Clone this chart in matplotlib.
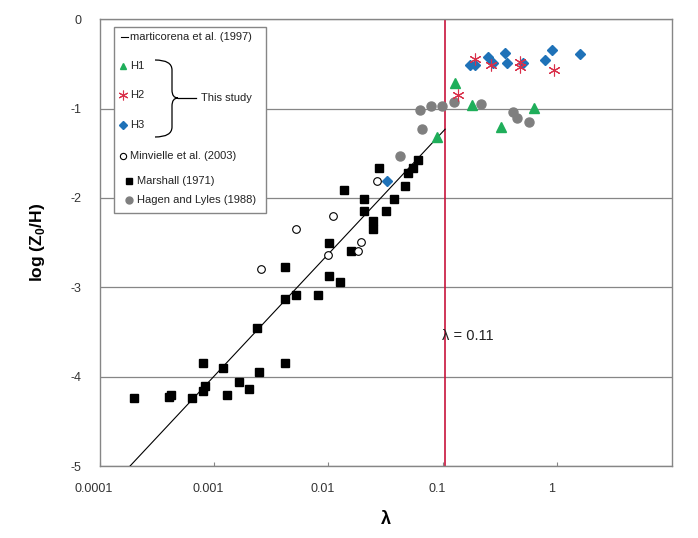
import matplotlib
matplotlib.use("Agg")
import matplotlib.pyplot as plt
from matplotlib.path import Path
from matplotlib.patches import PathPatch, Rectangle
from matplotlib.lines import Line2D
from matplotlib.transforms import ScaledTranslation

plt.rcParams['font.family'] = ['Liberation Sans', 'DejaVu Sans']
plt.rcParams['mathtext.fontset'] = 'custom'
plt.rcParams['mathtext.rm'] = 'Liberation Sans'
plt.rcParams['mathtext.bf'] = 'Liberation Sans:bold'
plt.rcParams['axes.unicode_minus'] = False

# Marshall (1971)
marshall_lam = [2.01e-4, 4.05e-4, 4.19e-4, 6.47e-4, 7.98e-4, 8.1e-4, 8.36e-4, 1.21e-3,
                1.29e-3, 1.67e-3, 2.03e-3, 2.40e-3, 2.49e-3, 4.18e-3, 4.15e-3, 5.19e-3,
                8.07e-3, 0.01265, 4.18e-3, 0.01007, 0.01007, 0.0137, 0.0157, 0.0207,
                0.0207, 0.0244, 0.0244, 0.0279, 0.0318, 0.0375, 0.0469, 0.0501,
                0.0554, 0.0612]
marshall_z = [-4.24, -4.23, -4.20, -4.24, -3.85, -4.16, -4.10, -3.90,
              -4.21, -4.06, -4.14, -3.45, -3.95, -3.13, -3.85, -3.09,
              -3.09, -2.94, -2.77, -2.50, -2.87, -1.91, -2.59, -2.01,
              -2.15, -2.26, -2.35, -1.67, -2.15, -2.01, -1.87, -1.72,
              -1.66, -1.58]

# Minvielle et al. (2003)
minv_lam = [2.58e-3, 5.22e-3, 0.0100, 0.01107, 0.0181, 0.0192, 0.0265]
minv_z = [-2.80, -2.35, -2.64, -2.20, -2.59, -2.49, -1.81]

# Hagen and Lyles (1988)
hagen_lam = [0.0424, 0.0633, 0.0663, 0.0786, 0.0986, 0.1256, 0.216, 0.409, 0.449, 0.571]
hagen_z = [-1.53, -1.01, -1.23, -0.97, -0.97, -0.93, -0.95, -1.04, -1.11, -1.15]

# This study
h1_lam = [0.0887, 0.128, 0.180, 0.321, 0.630]
h1_z = [-1.32, -0.71, -0.96, -1.21, -0.99]
h2_lam = [0.135, 0.191, 0.264, 0.474, 0.474, 0.940]
h2_z = [-0.85, -0.44, -0.51, -0.48, -0.53, -0.57]
h3_lam = [0.0328, 0.173, 0.191, 0.250, 0.277, 0.351, 0.363, 0.507, 0.784, 0.897, 1.585]
h3_z = [-1.81, -0.51, -0.51, -0.42, -0.49, -0.38, -0.49, -0.49, -0.46, -0.34, -0.39]

# marticorena et al. (1997) line
mart_lam = [1.85e-4, 0.105]
mart_z = [-5.0, -1.23]

lam_crit = 0.105

x_ticks = [1e-4, 1e-3, 1e-2, 1e-1, 1]
x_labels = ['0.0001', '0.001', '0.01', '0.1', '1']
y_ticks = [0, -1, -2, -3, -4, -5]

GREEN = '#1fae5a'
RED = '#d9304a'
BLUE = '#1f72b8'
GRAY = '#868686'

W, H = 698, 538
fig = plt.figure(figsize=(W / 100, H / 100), dpi=100)
ax = fig.add_axes([99.5 / W, 1 - 466 / H, 572 / W, 446.7 / H])

ax.set_xscale('log')
ax.set_xlim(1e-4, 10)
ax.set_ylim(-5, 0)

ax.plot(mart_lam, mart_z, color='black', lw=0.8, zorder=3)
ax.axvline(lam_crit, color='#c8143c', lw=1.2, zorder=2)

ax.plot(marshall_lam, marshall_z, 's', color='black', ms=6, zorder=4)
ax.plot(minv_lam, minv_z, 'o', mfc='white', mec='black', mew=0.8, ms=5.5, zorder=4)
ax.plot(hagen_lam, hagen_z, 'o', color='#7f7f7f', ms=6.5, zorder=4)
ax.plot(h1_lam, h1_z, '^', color=GREEN, ms=6.5, zorder=5)
ax.plot(h3_lam, h3_z, 'D', color=BLUE, ms=5.5, zorder=5)
ax.plot(h2_lam, h2_z, marker=(6, 2, 0), ls='none', color=RED, mec=RED, mew=0.8, ms=8.5, zorder=6)

t = ax.text(lam_crit, -3.55, 'λ = 0.11', fontsize=10.5, va='center', ha='left', color='#222222')
t.set_transform(t.get_transform() + ScaledTranslation(-3 / 100, 0, fig.dpi_scale_trans))

# axes styling, excel-like
for s in ax.spines.values():
    s.set_color(GRAY)
    s.set_linewidth(1)
ax.set_yticks(y_ticks)
ax.set_yticklabels([str(v) for v in y_ticks])
ax.yaxis.grid(True, color=GRAY, lw=0.9)
ax.set_axisbelow(True)
ax.tick_params(axis='y', length=0, pad=13, labelsize=9, labelcolor='#333333')
ax.xaxis.set_major_locator(matplotlib.ticker.FixedLocator(x_ticks))
ax.xaxis.set_minor_locator(matplotlib.ticker.NullLocator())
ax.set_xticklabels(x_labels)
ax.tick_params(axis='x', direction='in', length=3, color=GRAY, pad=12, labelsize=9,
               labelcolor='#333333')
shift = ScaledTranslation(-6 / 100, 0, fig.dpi_scale_trans)
for lab in ax.get_xticklabels():
    lab.set_transform(lab.get_transform() + shift)

ax.set_xlabel('λ', fontsize=13, fontweight='bold', labelpad=12)
ax.set_ylabel(r'log (Z$_\mathbf{0}$/H)', fontsize=12.5, fontweight='bold', labelpad=17)


# hand-built legend box (pixel coords of the figure)
def px(x, y):
    return x / W, 1 - y / H


x0, y0 = px(114, 213)
x1, y1 = px(266, 27)
fig.patches.append(Rectangle((x0, y0), x1 - x0, y1 - y0, transform=fig.transFigure,
                             fc='white', ec=GRAY, lw=1, zorder=10))

entries = [
    ('line', 123, 130, 36.7, 'marticorena et al. (1997)'),
    ('h1', 123, 130, 66, 'H1'),
    ('h2', 123, 130, 95, 'H2'),
    ('h3', 123, 130, 125, 'H3'),
    ('minv', 123, 130, 155.7, 'Minvielle et al. (2003)'),
    ('marsh', 129, 137, 180.7, 'Marshall (1971)'),
    ('hagen', 129, 137, 200, 'Hagen and Lyles (1988)'),
]
styles = {
    'h1': dict(marker='^', color=GREEN, ms=5),
    'h2': dict(marker=(6, 2, 0), color=RED, mec=RED, mew=0.8, ms=7),
    'h3': dict(marker='D', color=BLUE, ms=4),
    'minv': dict(marker='o', mfc='white', mec='black', mew=0.8, ms=4.5),
    'marsh': dict(marker='s', color='black', ms=4.5),
    'hagen': dict(marker='o', color='#7f7f7f', ms=5),
}
for kind, mx, tx, ty, label in entries:
    if kind == 'line':
        xa, ya = px(121, ty)
        xb, yb = px(127.5, ty)
        fig.lines.append(Line2D([xa, xb], [ya, yb], transform=fig.transFigure,
                                color='black', lw=0.8, zorder=11))
    else:
        mxf, myf = px(mx, ty)
        fig.lines.append(Line2D([mxf], [myf], transform=fig.transFigure, ls='none',
                                zorder=11, **styles[kind]))
    fx, fy = px(tx, ty)
    fig.text(fx, fy, label, fontsize=8, va='center', ha='left', color='#222222', zorder=12)

# brace grouping H1-H3
brace = [(155, 60), (172, 60), (172, 70), (172, 90), (172, 98), (178, 98),
         (172, 98), (172, 106), (172, 127), (172, 137), (155, 137)]
codes = [Path.MOVETO, Path.CURVE3, Path.CURVE3, Path.LINETO, Path.CURVE3, Path.CURVE3,
         Path.CURVE3, Path.CURVE3, Path.LINETO, Path.CURVE3, Path.CURVE3]
bpath = Path([px(x, y) for x, y in brace], codes)
fig.patches.append(PathPatch(bpath, transform=fig.transFigure, fc='none', ec='black',
                             lw=0.9, zorder=11))
xa, ya = px(178, 98)
xb, yb = px(196, 98)
fig.lines.append(Line2D([xa, xb], [ya, yb], transform=fig.transFigure, color='black',
                        lw=0.9, zorder=11))
fx, fy = px(201.5, 98)
fig.text(fx, fy, 'This study', fontsize=8, va='center', ha='left', color='#222222', zorder=12)

fig.savefig('out.png', dpi=100)
